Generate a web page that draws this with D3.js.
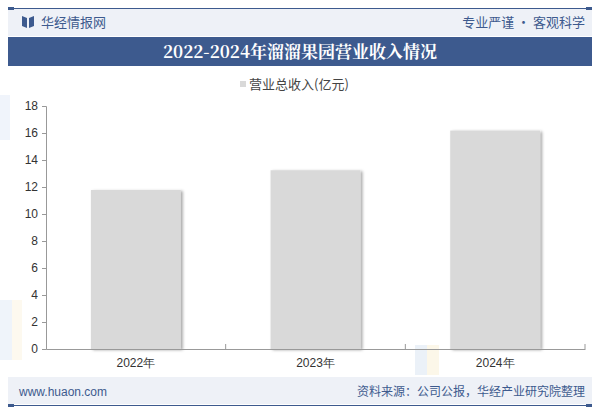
<!DOCTYPE html>
<html><head><meta charset="utf-8">
<script src="https://cdn.jsdelivr.net/npm/d3@7/dist/d3.min.js"></script>
<style>
body{margin:0;background:#fff;}
svg{display:block;font-family:"Noto Sans CJK SC","Noto Sans",sans-serif;}
</style></head>
<body><svg id="c" width="600" height="418"></svg>
<script>
const categories = ["2022年","2023年","2024年"];
const revenue = [11.78, 13.24, 16.18];
const yTicks = [0,2,4,6,8,10,12,14,16,18];
const seriesName = "营业总收入(亿元)";
const titleText = "2022-2024年溜溜果园营业收入情况";

const svg = d3.select("#c");
const blue = "#3d5a8e";

// header
svg.append("rect").attr("x",8).attr("y",9).attr("width",584).attr("height",27).attr("fill","#eef1f7");
svg.append("line").attr("x1",8).attr("x2",592).attr("y1",8.5).attr("y2",8.5).attr("stroke",blue).attr("stroke-width",1.2);
svg.append("rect").attr("x",8).attr("y",7).attr("width",6).attr("height",3).attr("fill",blue);
svg.append("rect").attr("x",586).attr("y",7).attr("width",6).attr("height",3).attr("fill",blue);
// logo
const lg = svg.append("g").attr("fill",blue);
lg.append("path").attr("d","M22,16 L27,18 L27,28 L22,26 Z");
lg.append("path").attr("d","M29,18 L34,16 L34,26 L29,28 Z");
svg.append("text").attr("x",41).attr("y",27).attr("font-size",13).attr("fill",blue).text("华经情报网");
svg.append("text").attr("x",585).attr("y",27).attr("text-anchor","end").attr("font-size",13).attr("fill",blue).text("专业严谨 • 客观科学");
svg.append("rect").attr("x",8).attr("y",37).attr("width",584).attr("height",29).attr("fill",blue);
svg.append("text").attr("x",300).attr("y",58).attr("text-anchor","middle").attr("font-size",17).attr("font-weight","bold")
  .attr("font-family","'Noto Serif CJK SC','Noto Sans CJK SC',serif").attr("fill","#fff").text(titleText);

// footer
svg.append("rect").attr("x",8).attr("y",377).attr("width",584).attr("height",27).attr("fill","#eef1f7");
svg.append("line").attr("x1",8).attr("x2",592).attr("y1",405.5).attr("y2",405.5).attr("stroke",blue).attr("stroke-width",1.2);
svg.append("rect").attr("x",8).attr("y",404).attr("width",6).attr("height",3).attr("fill",blue);
svg.append("rect").attr("x",586).attr("y",404).attr("width",6).attr("height",3).attr("fill",blue);
svg.append("text").attr("x",19).attr("y",396).attr("font-size",12).attr("font-family","'Liberation Sans',Arial,sans-serif").attr("fill",blue).text("www.huaon.com");
svg.append("text").attr("x",585).attr("y",396).attr("text-anchor","end").attr("font-size",12).attr("fill",blue).text("资料来源：公司公报，华经产业研究院整理");

// faint watermark logo shapes
const wm = svg.append("g").attr("opacity",0.6);
wm.append("rect").attr("x",415).attr("y",345).attr("width",12).attr("height",30).attr("fill","#dfe8f5");
wm.append("rect").attr("x",427).attr("y",345).attr("width",12).attr("height",30).attr("fill","#fbf3dc");
wm.append("rect").attr("x",0).attr("y",95).attr("width",10).attr("height",45).attr("fill","#e6edf8");
wm.append("rect").attr("x",0).attr("y",300).attr("width",12).attr("height",60).attr("fill","#e6edf8");
wm.append("rect").attr("x",12).attr("y",300).attr("width",10).attr("height",60).attr("fill","#fcf6e6");

// chart
const margin = {left:46, right:585, top:106, bottom:349};
const x = d3.scaleBand().domain(categories).range([margin.left, margin.right]).paddingInner(0).paddingOuter(0);
const y = d3.scaleLinear().domain([0,18]).range([margin.bottom, margin.top]);

const defs = svg.append("defs");
const f = defs.append("filter").attr("id","sh").attr("x","-20%").attr("y","-20%").attr("width","150%").attr("height","140%");
f.append("feDropShadow").attr("dx",2).attr("dy",1).attr("stdDeviation",1.5).attr("flood-color","#000").attr("flood-opacity",0.35);

const bw = x.bandwidth()*0.5;
svg.append("g").selectAll("rect").data(revenue).join("rect")
  .attr("x",(d,i)=>x(categories[i])+x.bandwidth()/2-bw/2)
  .attr("y",d=>y(d)).attr("width",bw).attr("height",d=>y(0)-y(d))
  .attr("fill","#d9d9d9").attr("filter","url(#sh)");

const yAxis = svg.append("g").attr("transform",`translate(${margin.left},0)`)
  .call(d3.axisLeft(y).tickValues(yTicks).tickSize(4).tickPadding(4));
yAxis.select(".domain").attr("stroke","#999");
yAxis.selectAll(".tick line").attr("stroke","#999");
yAxis.selectAll("text").attr("font-size",12).attr("fill","#333").attr("font-family","'Liberation Sans',Arial,sans-serif");

const xAxis = svg.append("g").attr("transform",`translate(0,${margin.bottom})`)
  .call(d3.axisBottom(x).tickSize(0).tickPadding(9));
xAxis.select(".domain").attr("stroke","#999");
xAxis.selectAll("text").attr("font-size",12).attr("fill","#333");
svg.append("g").selectAll("line").data(categories.slice(1).concat(["end"])).join("line")
  .attr("x1",(d,i)=> i<categories.length-1 ? x(d) : margin.right)
  .attr("x2",(d,i)=> i<categories.length-1 ? x(d) : margin.right)
  .attr("y1",margin.bottom).attr("y2",margin.bottom-5).attr("stroke","#999");

// legend
svg.append("rect").attr("x",240).attr("y",81).attr("width",6).attr("height",6).attr("fill","#d9d9d9");
svg.append("text").attr("x",249).attr("y",89).attr("font-size",13).attr("fill","#444").text(seriesName);
</script></body></html>
